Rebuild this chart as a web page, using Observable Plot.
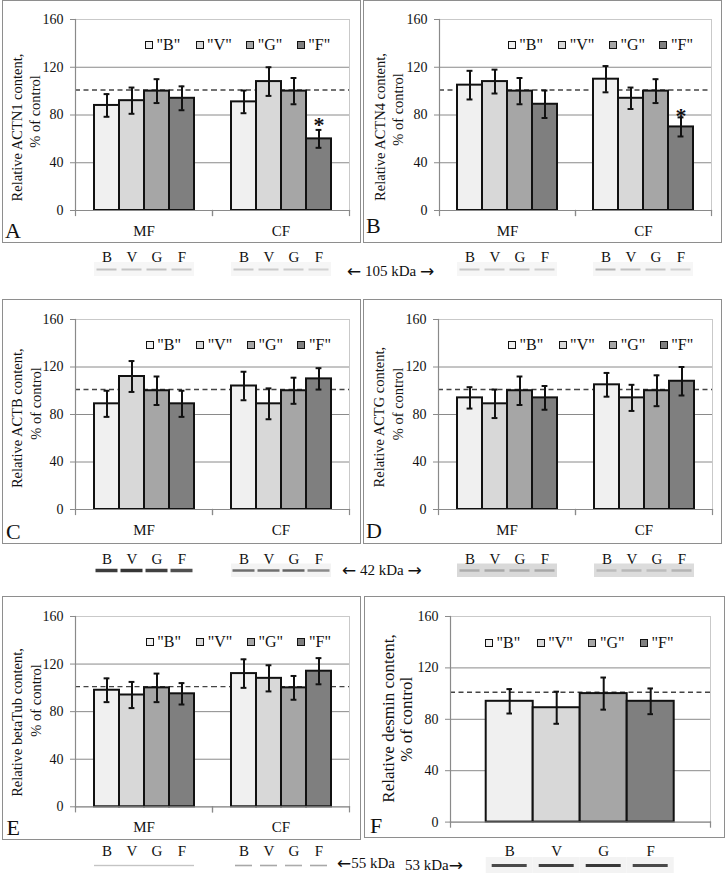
<!DOCTYPE html>
<html>
<head>
<meta charset="utf-8">
<script src="https://cdn.jsdelivr.net/npm/d3@7"></script>
<script src="https://cdn.jsdelivr.net/npm/@observablehq/plot@0.6"></script>
<style>
html,body{margin:0;padding:0;background:#fff;}
#fig{position:relative;width:725px;height:874px;overflow:hidden;font-family:"Liberation Serif","DejaVu Serif",serif;color:#111;}
#fig svg{position:absolute;}
.box{position:absolute;border:1.4px solid #8e8e8e;box-sizing:border-box;}
.letter{position:absolute;font-size:22px;line-height:22px;}
.legend{position:absolute;display:flex;height:18px;align-items:center;font-size:16px;line-height:18px;}
.legend .item{display:flex;align-items:center;}
.legend .sw{width:8px;height:8px;box-sizing:border-box;border:1.6px solid #111;margin-right:3.5px;}
.kda{position:absolute;font-size:15px;line-height:16px;white-space:pre;display:flex;align-items:center;height:16px;}
.kda .arr{font-family:"DejaVu Sans",sans-serif;font-size:17px;line-height:16px;}
</style>
</head>
<body>
<div id="fig"></div>
<script>
// ---------------- data ----------------
const series = ["B", "V", "G", "F"];
const legendLabels = ['"B"', '"V"', '"G"', '"F"'];
const fractions = ["MF", "CF"];
const desminGroups = [""];
const yTicks = [0, 40, 80, 120, 160];
const gridValues = [40, 80, 120];
const controlLevel = 101;

const actn1Mean = [88, 92, 100, 94, 91, 108, 100, 60];
const actn1Err  = [9.5, 11, 10, 10, 9.5, 12, 11, 7.5];
const actn1Sig  = [0, 0, 0, 0, 0, 0, 0, 1];

const actn4Mean = [105, 108, 100, 89, 110, 94, 100, 70];
const actn4Err  = [12, 10, 11, 11.5, 11, 9, 10, 8];
const actn4Sig  = [0, 0, 0, 0, 0, 0, 0, 1];

const actbMean = [89, 112, 100, 89, 104, 89, 100, 110];
const actbErr  = [11, 13, 12, 11, 12, 13, 11, 9];

const actgMean = [94, 89, 100, 94, 105, 94, 100, 108];
const actgErr  = [9, 12, 12, 10, 10, 11, 13, 12];

const betaTubMean = [98, 94, 100, 95, 112, 108, 100, 114];
const betaTubErr  = [10, 11, 12, 9, 12, 11, 10, 11];

const desminMean = [94, 89, 100, 94];
const desminErr  = [9.5, 12.5, 12.5, 10];

// blot band tones (per lane) and blot backgrounds (per fraction)
const actn1Band = ["#c2c2c2", "#c6c6c6", "#c2c2c2", "#c8c8c8", "#c8c8c8", "#cbcbcb", "#cbcbcb", "#d3d3d3"];
const actn1Bg   = ["#f6f6f6", "#f6f6f6"];
const actn4Band = ["#c6c6c6", "#cacaca", "#c2c2c2", "#cecece", "#b6b6b6", "#c2c2c2", "#c6c6c6", "#d2d2d2"];
const actn4Bg   = ["#f6f6f6", "#f6f6f6"];
const actbBand  = ["#3c3c3c", "#353535", "#414141", "#505050", "#6e6e6e", "#707070", "#646464", "#8a8a8a"];
const actbBg    = [null, "#f3f3f3"];
const actgBand  = ["#acacac", "#a8a8a8", "#acacac", "#a8a8a8", "#bcbcbc", "#b8b8b8", "#bcbcbc", "#b4b4b4"];
const actgBg    = ["#d9d9d9", "#dcdcdc"];
const betaTubBand = ["#c4c4c4", "#c4c4c4", "#c4c4c4", "#c4c4c4", "#a8a8a8", "#a8a8a8", "#acacac", "#a8a8a8"];
const betaTubBg   = [null, null];
const desminBand = ["#4a4a4a", "#404040", "#383838", "#4a4a4a"];
const desminBg   = ["#f3f3f3"];

const kdaLabels = ["\u2190 105 kDa \u2192", "\u2190 42 kDa \u2192", "\u219055 kDa", "53 kDa\u2192"];

const fills = ["#f0f0f0", "#d8d8d8", "#a6a6a6", "#7f7f7f"];

// ---------------- panel definitions ----------------
const panels = [
  {id: "A", title: "Relative ACTN1 content,", groups: fractions, mean: actn1Mean, err: actn1Err, sig: actn1Sig, band: actn1Band, bg: actn1Bg},
  {id: "B", title: "Relative ACTN4 content,", groups: fractions, mean: actn4Mean, err: actn4Err, sig: actn4Sig, band: actn4Band, bg: actn4Bg},
  {id: "C", title: "Relative ACTB content,", groups: fractions, mean: actbMean, err: actbErr, sig: null, band: actbBand, bg: actbBg},
  {id: "D", title: "Relative ACTG content,", groups: fractions, mean: actgMean, err: actgErr, sig: null, band: actgBand, bg: actgBg},
  {id: "E", title: "Relative betaTub content,", groups: fractions, mean: betaTubMean, err: betaTubErr, sig: null, band: betaTubBand, bg: betaTubBg},
  {id: "F", title: "Relative desmin content,", groups: desminGroups, mean: desminMean, err: desminErr, sig: null, band: desminBand, bg: desminBg}
];

// layout (positions / styles only)
const layout = {
  A: {box: [2, 0, 359, 243], at: [0, 0.3], ml: 75, mr: 13, plotH: 191, pad: 0.72, t1: [-58, 12.5], t2: [-40, -3.5], tfs: 14.5,
      letter: [5, 240], legend: [145, 45, 50.6], starDy: -4.5,
      strip: {top: 245, mt: 17, fh: 14, tp: 0.5, bw: [2, 2], inset: [2.5, 2.5]}},
  B: {box: [363, 0, 359, 243], at: [362, 0.3], ml: 76, mr: 13, plotH: 191, pad: 0.72, t1: [-59, 12], t2: [-41, -5.5], tfs: 14.5,
      letter: [366, 235], legend: [507.7, 45, 50.6], starDy: -1,
      strip: {top: 245, mt: 17, fh: 14, tp: 0.5, bw: [2, 2], inset: [2.5, 2.5]}},
  C: {box: [2, 299, 359, 245], at: [0, 300.3], ml: 75, mr: 13, plotH: 190, pad: 0.72, t1: [-58, 3.7], t2: [-39.5, -11], tfs: 14.5,
      letter: [6, 540.5], legend: [145.7, 345, 50.6], starDy: 0,
      strip: {top: 545, mt: 18.5, fh: 13.5, tp: 0.3, bw: [3.5, 2.5], inset: [1.5, 1.5]}},
  D: {box: [363, 299, 359, 245], at: [362, 300.3], ml: 76, mr: 12, plotH: 190, pad: 0.72, t1: [-59, 2.7], t2: [-40, -10.5], tfs: 14.5,
      letter: [366, 540], legend: [508, 345, 50.6], starDy: 0,
      strip: {top: 545, mt: 18.5, fh: 13.5, tp: 0.3, bw: [2.5, 2.5], inset: [2.5, 2.5]}},
  E: {box: [2, 596, 359, 244], at: [0, 596.7], ml: 75, mr: 13, plotH: 190.3, pad: 0.72, t1: [-58, 10.8], t2: [-39.5, -11.2], tfs: 14.5,
      letter: [6.5, 836.5], legend: [145.7, 641.7, 50.6], starDy: 0,
      strip: {top: 836, mt: 21, fh: 16, tp: 2, bw: [1.4, 1.6], inset: [0, 4]}},
  F: {box: [364, 596, 361, 242], at: [362, 596.7], ml: 87.3, mr: 14, plotH: 205.6, pad: 0.747, t1: [-62, -0.8], t2: [-44, 0], tfs: 17,
      letter: [370, 835], legend: [485, 643, 51.7], starDy: 0,
      strip: {top: 836, mt: 21, fh: 16, tp: 2, bw: [3], inset: [6]}}
};

const FONT = "Liberation Serif, DejaVu Serif, serif";
const fig = document.getElementById("fig");

function rowsFor(p) {
  const rows = [];
  p.groups.forEach((g, gi) => series.forEach((s, si) => {
    const k = gi * series.length + si;
    rows.push({group: g, series: s, mean: p.mean[k], lo: p.mean[k] - p.err[k], hi: p.mean[k] + p.err[k],
               sig: p.sig ? p.sig[k] : 0, band: p.band[k], bg: p.bg[gi], row: "band"});
  }));
  return rows;
}

function place(el, x, y) { el.style.left = x + "px"; el.style.top = y + "px"; fig.appendChild(el); }

function barPanel(p, L, rows) {
  const W = 362, mt = 19, mb = 35;
  const H = mt + L.plotH + mb;
  const plotW = W - L.ml - L.mr;
  const bw = plotW / p.groups.length / (series.length + 2 * L.pad);
  const cap = (bw - 6) / 2;
  const style = {fontFamily: FONT, fontSize: "14px", color: "#111", background: "transparent", overflow: "visible", maxWidth: "none"};
  return Plot.plot({
    width: W, height: H, marginLeft: L.ml, marginRight: L.mr, marginTop: mt, marginBottom: mb,
    style,
    fx: {domain: p.groups, padding: 0, axis: null},
    x: {domain: series, paddingInner: 0, paddingOuter: L.pad, axis: null},
    y: {domain: [0, 160], axis: null},
    color: {domain: series, range: fills},
    marks: [
      Plot.frame({facet: "super", stroke: "#c9c9c9", strokeWidth: 1}),
      Plot.ruleY(gridValues, {stroke: "#8a8a8a", strokeWidth: 1}),
      Plot.ruleY([controlLevel], {stroke: "#444", strokeWidth: 1.4, strokeDasharray: "5,3.5"}),
      Plot.barY(rows, {fx: "group", x: "series", y: "mean", fill: "series", stroke: "#111", strokeWidth: 2}),
      Plot.ruleX(rows, {fx: "group", x: "series", y1: "lo", y2: "hi", stroke: "#111", strokeWidth: 2}),
      Plot.tickY(rows, {fx: "group", x: "series", y: "lo", stroke: "#111", strokeWidth: 2, insetLeft: cap, insetRight: cap}),
      Plot.tickY(rows, {fx: "group", x: "series", y: "hi", stroke: "#111", strokeWidth: 2, insetLeft: cap, insetRight: cap}),
      Plot.text(rows.filter(d => d.sig), {fx: "group", x: "series", y: "hi", text: () => "*", dy: L.starDy, fontSize: 22, fontWeight: "bold", fill: "#111"}),
      Plot.frame({facet: "super", anchor: "left", stroke: "#8a8a8a", strokeWidth: 1.2}),
      Plot.frame({facet: "super", anchor: "bottom", stroke: "#8a8a8a", strokeWidth: 1.2}),
      Plot.frame({anchor: "left", insetTop: L.plotH, insetBottom: -5, stroke: "#8a8a8a", strokeWidth: 1.2}),
      Plot.frame({anchor: "right", insetTop: L.plotH, insetBottom: -5, stroke: "#8a8a8a", strokeWidth: 1.2}),
      Plot.axisY({ticks: yTicks, tickSize: 5, tickPadding: 7, stroke: "#8a8a8a", fill: "#111", fontSize: 14, label: null}),
      Plot.axisFx({anchor: "bottom", tickSize: 0, tickPadding: 15, fontSize: 15, fill: "#111", label: null}),
      Plot.text([p.title], {facet: "super", text: d => d, frameAnchor: "left", textAnchor: "middle", lineAnchor: "middle", rotate: -90, dx: L.t1[0], dy: L.t1[1], fontSize: L.tfs, fill: "#111"}),
      Plot.text(["% of control"], {facet: "super", text: d => d, frameAnchor: "left", textAnchor: "middle", lineAnchor: "middle", rotate: -90, dx: L.t2[0], dy: L.t2[1], fontSize: L.tfs, fill: "#111"})
    ]
  });
}

function blotStrip(p, L, rows) {
  const S = L.strip;
  const W = 362;
  const H = S.mt + S.fh + 1;
  const style = {fontFamily: FONT, fontSize: "15px", color: "#111", background: "transparent", overflow: "visible", maxWidth: "none"};
  const bandMarks = p.groups.map((g, gi) =>
    Plot.tickY(rows.filter(d => d.group === g), {fx: "group", x: "series", y: "row", stroke: "band", strokeWidth: S.bw[gi],
      insetLeft: S.inset[gi], insetRight: S.inset[gi]}));
  return Plot.plot({
    width: W, height: H, marginLeft: L.ml, marginRight: L.mr, marginTop: S.mt, marginBottom: 1,
    style,
    fx: {domain: p.groups, padding: 0, axis: null},
    x: {domain: series, paddingInner: 0, paddingOuter: L.pad, axis: null},
    y: {type: "point", domain: ["band"], axis: null},
    color: {type: "identity"},
    marks: [
      Plot.cell(rows.filter(d => d.bg), {fx: "group", x: "series", fill: "bg", inset: 0}),
      ...bandMarks,
      Plot.axisX({anchor: "top", tickSize: 0, tickPadding: S.tp, fontSize: 15, fill: "#111", label: null})
    ]
  });
}

panels.forEach(p => {
  const L = layout[p.id];
  const rows = rowsFor(p);

  const box = document.createElement("div");
  box.className = "box";
  box.style.width = L.box[2] + "px";
  box.style.height = L.box[3] + "px";
  place(box, L.box[0], L.box[1]);

  const svg = barPanel(p, L, rows);
  place(svg, L.at[0], L.at[1]);

  const strip = blotStrip(p, L, rows);
  place(strip, L.at[0], L.strip.top);

  const letter = document.createElement("div");
  letter.className = "letter";
  letter.textContent = p.id;
  place(letter, L.letter[0], L.letter[1] - 19.6);

  const leg = document.createElement("div");
  leg.className = "legend";
  series.forEach((s, i) => {
    const it = document.createElement("div");
    it.className = "item";
    it.style.width = L.legend[2] + "px";
    const sw = document.createElement("span");
    sw.className = "sw";
    sw.style.background = fills[i];
    const tx = document.createElement("span");
    tx.textContent = legendLabels[i];
    it.appendChild(sw); it.appendChild(tx);
    leg.appendChild(it);
  });
  place(leg, L.legend[0], L.legend[1] - 9);
});

const kdaPos = [[347, 271], [342, 570], [337, 863], [405, 865]];
kdaLabels.forEach((t, i) => {
  const d = document.createElement("div");
  d.className = "kda";
  t.split(/([\u2190\u2192])/).filter(s => s.length).forEach(part => {
    const s = document.createElement("span");
    if (part === "\u2190" || part === "\u2192") s.className = "arr";
    s.textContent = part;
    d.appendChild(s);
  });
  place(d, kdaPos[i][0], kdaPos[i][1] - 8);
});
</script>
</body>
</html>
